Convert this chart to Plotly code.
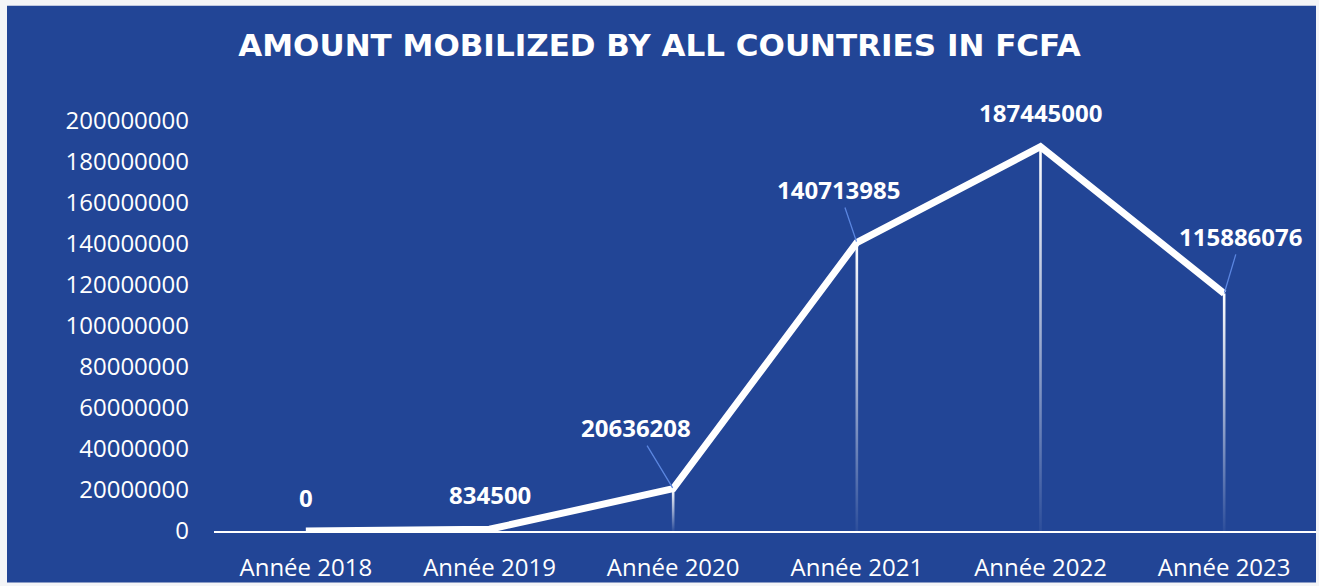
import plotly.graph_objects as go

categories = ["Année 2018", "Année 2019", "Année 2020", "Année 2021", "Année 2022", "Année 2023"]
amounts = [0, 834500, 20636208, 140713985, 187445000, 115886076]
y_ticks = [0, 20000000, 40000000, 60000000, 80000000, 100000000,
           120000000, 140000000, 160000000, 180000000, 200000000]
title_text = "AMOUNT MOBILIZED BY ALL COUNTRIES IN FCFA"

BLUE = "#224596"
W, H = 1319, 586
L, R, T, B = 214, 3, 121, 52
PLOT_W = W - L - R
pos = list(range(len(categories)))

fig = go.Figure()

# gradient drop lines (white at the point fading to blue at the axis)
half = 1.3 / (PLOT_W / len(categories))  # ~1.3 px half width in axis units
for i, v in zip(pos, amounts):
    if v <= 0:
        continue
    fig.add_trace(go.Scatter(
        x=[i - half, i + half, i + half, i - half, i - half],
        y=[0, 0, v, v, 0], mode="lines", fill="toself",
        line=dict(width=0, color="rgba(0,0,0,0)"),
        fillgradient=dict(type="vertical",
                          colorscale=[[0, "rgba(255,255,255,0.05)"],
                                      [0.5, "rgba(255,255,255,0.55)"],
                                      [1, "rgba(255,255,255,1)"]]),
        hoverinfo="skip", showlegend=False))

fig.add_trace(go.Scatter(x=pos, y=amounts, mode="lines",
                         line=dict(color="white", width=7),
                         showlegend=False))

# data labels with leader lines (offsets in pixels)
label_offsets = [(0, -34, False), (0, -35, False), (-37, -61, True),
                 (-18, -53, True), (0, -34, False), (17, -57, True)]
for i, v, (dx, dy, arrow) in zip(pos, amounts, label_offsets):
    fig.add_annotation(x=i, y=v, text=f"<b>{v}</b>", ax=dx, ay=dy,
                       axref="pixel", ayref="pixel",
                       showarrow=True, arrowhead=0, arrowwidth=1.3,
                       arrowcolor="#5b86e0" if arrow else "rgba(0,0,0,0)",
                       standoff=1,
                       font=dict(family="Open Sans", size=24, color="white"))

# blue panel background
fig.add_shape(type="rect", xref="paper", yref="paper", layer="below",
              x0=(7 - L) / PLOT_W, x1=(1316 - L) / PLOT_W,
              y0=-B / (H - T - B), y1=(H - 5 - B) / (H - T - B),
              fillcolor=BLUE, line=dict(width=0))

fig.update_layout(
    width=W, height=H,
    margin=dict(l=L, r=R, t=T, b=B),
    paper_bgcolor="#f4f5f7",
    plot_bgcolor=BLUE,
    title=dict(text=f"<b>{title_text}</b>", x=0.5, xanchor="center",
               y=1 - 45 / H, yanchor="middle", yref="container",
               font=dict(family="DejaVu Sans", size=31, color="white")),
    xaxis=dict(range=[-0.5, 5.5], tickvals=pos, ticktext=categories,
               showgrid=False, zeroline=False, showline=True,
               linecolor="white", linewidth=2, ticks="", ticklabelstandoff=14,
               tickfont=dict(family="Open Sans", size=24, color="white"),
               fixedrange=True),
    yaxis=dict(range=[0, 200000000], tickvals=y_ticks, tickformat="d",
               showgrid=False, zeroline=False, showline=False, ticks="",
               ticklabelstandoff=24,
               tickfont=dict(family="Open Sans", size=24, color="white"),
               fixedrange=True),
)

fig.write_html("out.html")
